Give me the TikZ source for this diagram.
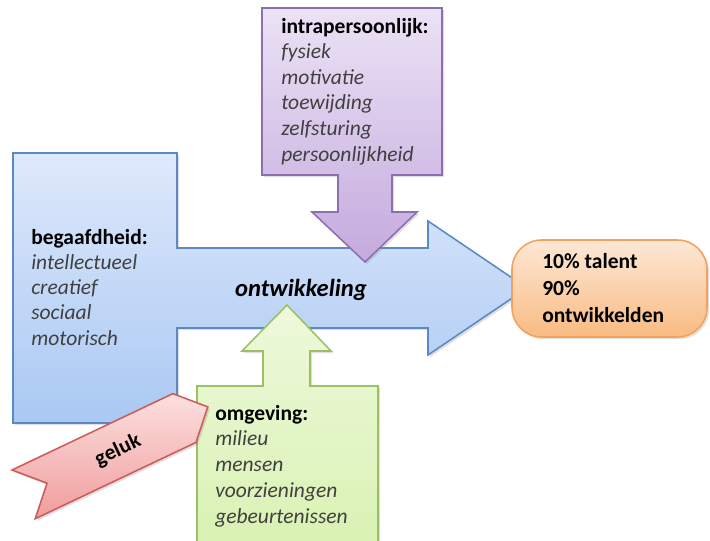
\documentclass[tikz,border=0pt]{standalone}
\usepackage{fontspec}
\setmainfont{Carlito}
\usepackage{tikz}
\usetikzlibrary{shadows}

\definecolor{blauwrand}{HTML}{5B89C4}
\definecolor{blauwboven}{HTML}{DEE9FB}
\definecolor{blauwonder}{HTML}{A9C8F3}
\definecolor{paarsrand}{HTML}{8D6FB0}
\definecolor{paarsboven}{HTML}{ECE2F6}
\definecolor{paarsonder}{HTML}{C4AADD}
\definecolor{groenrand}{HTML}{9CC064}
\definecolor{groenboven}{HTML}{EEF9DC}
\definecolor{groenonder}{HTML}{D8F1B0}
\definecolor{roodrand}{HTML}{CC5C5A}
\definecolor{roodboven}{HTML}{FCE0E0}
\definecolor{roodonder}{HTML}{F19C9C}
\definecolor{oranjerand}{HTML}{F4A15E}
\definecolor{oranjeboven}{HTML}{FDE8D6}
\definecolor{oranjeonder}{HTML}{F9BB82}
\definecolor{tekstgrijs}{HTML}{404040}

\newcommand{\kopje}[1]{{\upshape\bfseries\color{black}#1}}

\tikzstyle{blok} = [line width=1.1pt, line join=miter,
drop shadow={opacity=0.25, shadow xshift=1.5pt, shadow yshift=-1.5pt}]
\tikzstyle{lijst} = [align=left, inner sep=0pt, anchor=base west, text=tekstgrijs]

\begin{document}
\begin{tikzpicture}[x=0.025cm, y=-0.025cm]
	\clip (0,0) rectangle (710,540);
	% begaafdheid -> ontwikkeling
	\draw[blok, draw=blauwrand, top color=blauwboven, bottom color=blauwonder]
		(13,153) -- (177,153) -- (177,248) -- (428,248) -- (428,221) -- (527,288)
		-- (428,355) -- (428,328) -- (177,328) -- (177,423) -- (13,423) -- cycle;
	% intrapersoonlijk
	\draw[blok, draw=paarsrand, top color=paarsboven, bottom color=paarsonder]
		(262,8) -- (442,8) -- (442,175) -- (392,175) -- (392,212) -- (417,212)
		-- (365,262) -- (312,212) -- (338,212) -- (338,175) -- (262,175) -- cycle;
	% omgeving
	\draw[blok, draw=groenrand, top color=groenboven, bottom color=groenonder]
		(197,386) -- (263,386) -- (263,351) -- (242,351) -- (287,305) -- (331,351)
		-- (310,351) -- (310,386) -- (378,386) -- (378,560) -- (197,560) -- cycle;
	% geluk
	\begin{scope}[shift={(12,470)}, rotate=25.4]
		\draw[blok, draw=roodrand, top color=roodboven, bottom color=roodonder]
			(0,0) -- (178,0) -- (204,27) -- (178,54) -- (0,54) -- (26,27) -- cycle;
		\node[rotate=25.4, font=\fontsize{15.3}{18}\selectfont\bfseries] (geluk) at (104,28) {geluk};
	\end{scope}
	% resultaat
	\draw[blok, draw=oranjerand, top color=oranjeboven, bottom color=oranjeonder,
		rounded corners=21pt] (512,240) rectangle (707,337);

	\node[lijst, font=\fontsize{15.3}{17.8}\selectfont\itshape] (begaafd) at (31,345)
		{\kopje{begaafdheid:}\\intellectueel\\creatief\\sociaal\\motorisch};
	\node[lijst, font=\fontsize{15.3}{18.2}\selectfont\itshape] (intra) at (281,161)
		{\kopje{intrapersoonlijk:}\\fysiek\\motivatie\\toewijding\\zelfsturing\\persoonlijkheid};
	\node[lijst, font=\fontsize{15.3}{18.3}\selectfont\itshape] (omgeving) at (215,523)
		{\kopje{omgeving:}\\milieu\\mensen\\voorzieningen\\gebeurtenissen};
	\node[lijst, text=black, font=\fontsize{15.3}{19.2}\selectfont\bfseries] (talent) at (542,322)
		{10\% talent\\90\%\\ontwikkelden};
	\node[font=\fontsize{17.5}{20}\selectfont\bfseries\itshape] (ontw) at (301,290) {ontwikkeling};
\end{tikzpicture}
\end{document}
